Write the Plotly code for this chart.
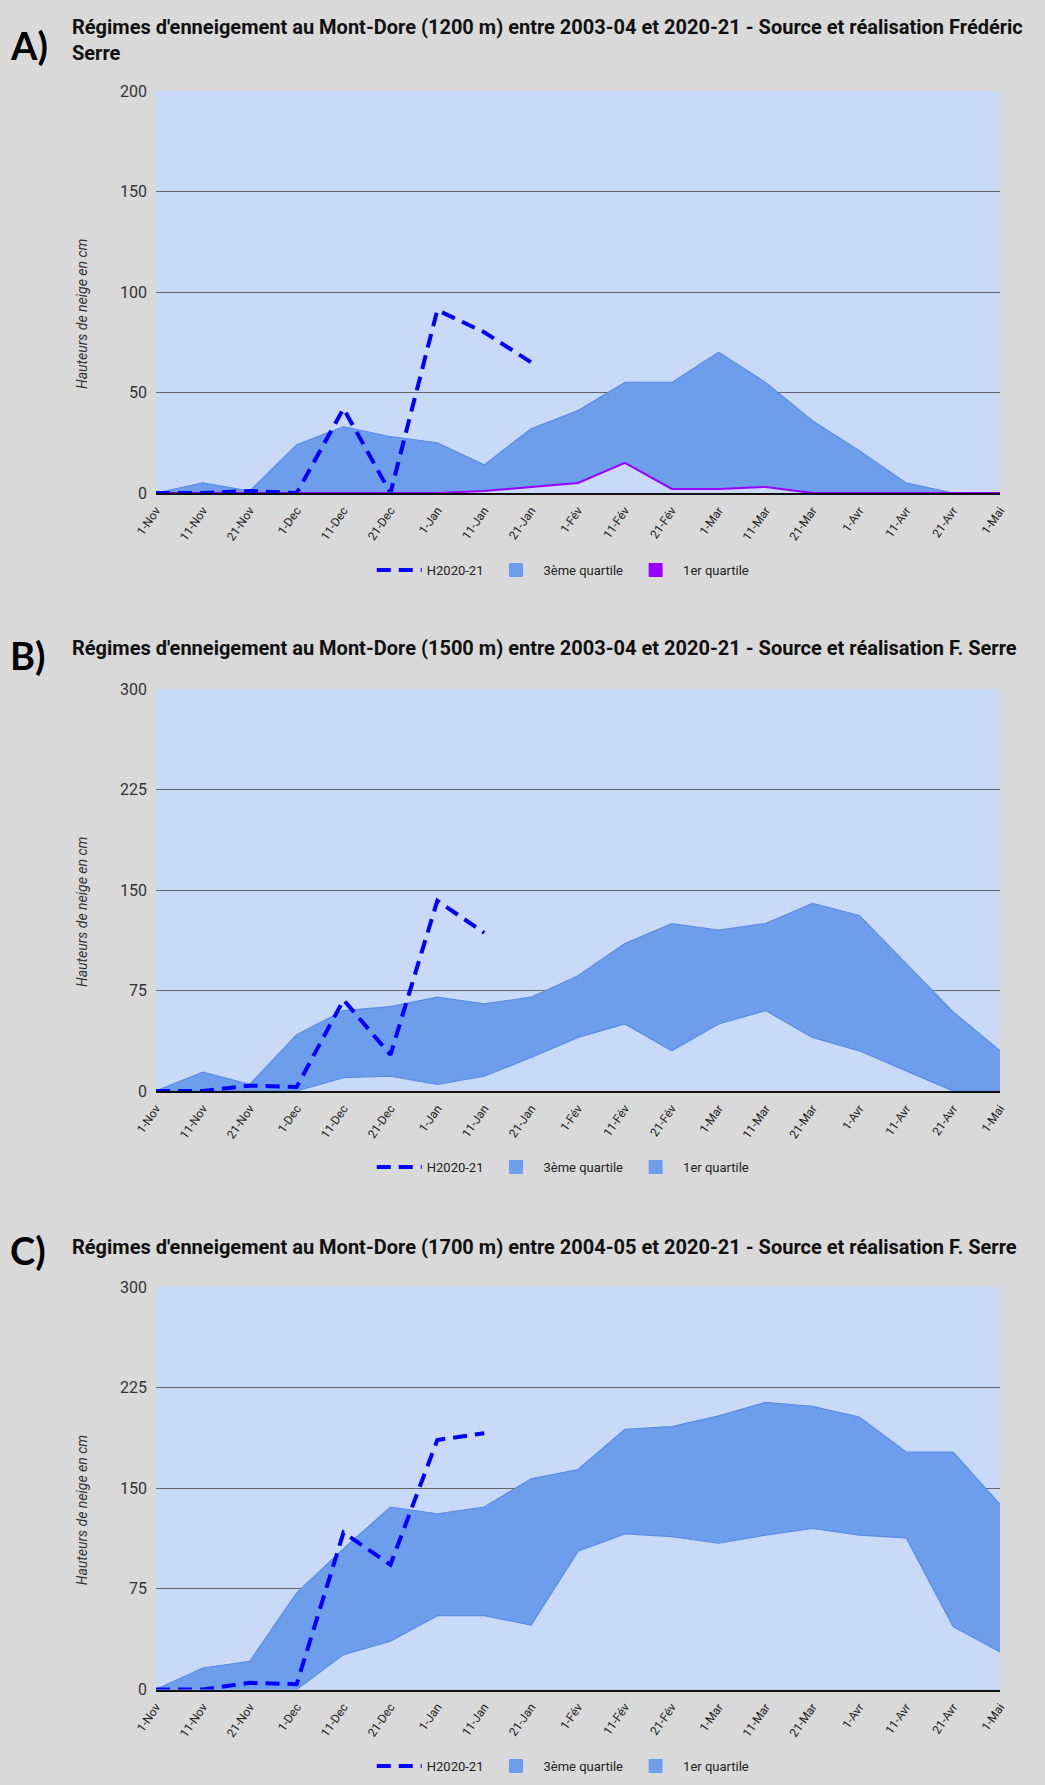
import plotly.graph_objects as go

# 10-day steps of the snow season
dates = ["1-Nov", "11-Nov", "21-Nov", "1-Dec", "11-Dec", "21-Dec", "1-Jan", "11-Jan",
         "21-Jan", "1-Fév", "11-Fév", "21-Fév", "1-Mar", "11-Mar", "21-Mar", "1-Avr",
         "11-Avr", "21-Avr", "1-Mai"]

# A) 1200 m
h_1200 = [0, 0, 1, 0, 42, 0, 91, 80, 65] + [None] * 10
q3_1200 = [0, 5, 1, 24, 33, 28, 25, 14, 32, 41, 55, 55, 70, 55, 36, 21, 5, 0, 0]
q1_1200 = [0, 0, 0, 0, 0, 0, 0, 1, 3, 5, 15, 2, 2, 3, 0, 0, 0, 0, 0]

# B) 1500 m
h_1500 = [0, 0, 4, 3, 68, 27, 142, 118] + [None] * 11
q3_1500 = [0, 14, 5, 42, 60, 63, 70, 65, 70, 86, 110, 125, 120, 125, 140, 131, 95, 59, 30]
q1_1500 = [0, 0, 0, 0, 10, 11, 5, 11, 25, 40, 50, 30, 50, 60, 40, 30, 15, 0, 0]

# C) 1700 m
h_1700 = [0, 0, 5, 4, 117, 93, 186, 191] + [None] * 11
q3_1700 = [0, 16, 21, 72, 105, 136, 131, 136, 157, 164, 194, 196, 204, 214, 211, 203, 177, 177, 138]
q1_1700 = [0, 0, 0, 0, 26, 36, 55, 55, 48, 103, 116, 114, 109, 115, 120, 115, 113, 47, 28]

titles = [
    "Régimes d'enneigement au Mont-Dore (1200 m) entre 2003-04 et 2020-21 - Source et réalisation Frédéric<br>Serre",
    "Régimes d'enneigement au Mont-Dore (1500 m) entre 2003-04 et 2020-21 - Source et réalisation F. Serre",
    "Régimes d'enneigement au Mont-Dore (1700 m) entre 2004-05 et 2020-21 - Source et réalisation F. Serre",
]
letters = ["A)", "B)", "C)"]
y_ticks = [[0, 50, 100, 150, 200], [0, 75, 150, 225, 300], [0, 75, 150, 225, 300]]

W, H = 1045, 1785
BG = "#d9d9d9"
PLOT_BG = "#c9daf8"
AREA = "#6d9eeb"
AREA_EDGE = "#5a8de6"
DASH_BLUE = "#0000ff"
PURPLE = "#9900ff"

# pixel layout of each panel: plot top, plot bottom, title centre, letter centre, legend centre
panels = [
    dict(top=91, bottom=493, title_y=40, letter_y=45, legend_y=570,
         h=h_1200, q3=q3_1200, q1=q1_1200, q1_line=PURPLE, q1_leg=PURPLE, q1_w=2),
    dict(top=689, bottom=1091, title_y=648, letter_y=655, legend_y=1167,
         h=h_1500, q3=q3_1500, q1=q1_1500, q1_line=AREA_EDGE, q1_leg=AREA, q1_w=1.2),
    dict(top=1287, bottom=1689.5, title_y=1247, letter_y=1250, legend_y=1766,
         h=h_1700, q3=q3_1700, q1=q1_1700, q1_line=AREA_EDGE, q1_leg=AREA, q1_w=1.2),
]

X0, X1 = 156, 1000


def py(v):
    return 1 - v / H


fig = go.Figure()
annotations = []
layout = {}

for k, p in enumerate(panels):
    n = k + 1
    sx = "" if n == 1 else str(n)
    xa, ya = "x" + sx, "y" + sx
    leg = "legend" + sx

    fig.add_trace(go.Scatter(x=dates, y=p["q3"], mode="lines", fill="tozeroy",
                             fillcolor=AREA, line=dict(color=AREA_EDGE, width=1.2),
                             xaxis=xa, yaxis=ya, showlegend=False, hoverinfo="skip"))
    fig.add_trace(go.Scatter(x=dates, y=p["q1"], mode="lines", fill="tozeroy",
                             fillcolor=PLOT_BG, line=dict(color=p["q1_line"], width=p["q1_w"]),
                             xaxis=xa, yaxis=ya, showlegend=False, hoverinfo="skip"))
    fig.add_trace(go.Scatter(x=dates, y=p["h"], mode="lines", name="H2020-21",
                             line=dict(color=DASH_BLUE, width=4, dash="14px,8px"),
                             connectgaps=False, xaxis=xa, yaxis=ya, legend=leg, legendrank=1))
    # legend swatches for the two quartile areas
    fig.add_trace(go.Scatter(x=[None], y=[None], mode="markers", name="3ème quartile",
                             marker=dict(symbol="square", size=14, color=AREA),
                             xaxis=xa, yaxis=ya, legend=leg, legendrank=2))
    fig.add_trace(go.Scatter(x=[None], y=[None], mode="markers", name="1er quartile",
                             marker=dict(symbol="square", size=14, color=p["q1_leg"]),
                             xaxis=xa, yaxis=ya, legend=leg, legendrank=3))

    dom_y = [py(p["bottom"]), py(p["top"])]
    layout["xaxis" + sx] = dict(
        domain=[X0 / W, X1 / W], anchor=ya, type="category", categoryorder="array",
        categoryarray=dates, range=[0, len(dates) - 1], showgrid=False, zeroline=False,
        tickangle=-55, tickfont=dict(size=12, color="#222222", family="Roboto"),
        showline=True, linecolor="#111111", linewidth=1.5, ticks="", ticklabelstandoff=4,
        automargin=False,
    )
    layout["yaxis" + sx] = dict(
        domain=dom_y, anchor=xa, range=[0, y_ticks[k][-1]], tickvals=y_ticks[k],
        showgrid=True, gridcolor="#666666", gridwidth=1, zeroline=False,
        tickfont=dict(size=16, color="#333333", family="Roboto"), ticks="",
        ticklabelstandoff=8, fixedrange=True, automargin=False,
    )
    layout[leg] = dict(
        orientation="h", x=0.539, xanchor="center", y=py(p["legend_y"]), yanchor="middle",
        bgcolor="rgba(0,0,0,0)", font=dict(size=13, color="#222222", family="Roboto"),
        itemwidth=45, tracegroupgap=0,
    )

    annotations.append(dict(text="<b>%s</b>" % titles[k], x=70 / W, y=py(p["title_y"]),
                            xref="paper", yref="paper", xanchor="left", yanchor="middle",
                            align="left", showarrow=False,
                            font=dict(size=20, color="#111111", family="Roboto")))
    annotations.append(dict(text="<b>%s</b>" % letters[k], x=8 / W, y=py(p["letter_y"]),
                            xref="paper", yref="paper", xanchor="left", yanchor="middle",
                            showarrow=False,
                            font=dict(size=38, color="#000000", family="Lato")))
    annotations.append(dict(text="<i>Hauteurs de neige en cm</i>", x=82 / W,
                            y=py((p["top"] + p["bottom"]) / 2 + 22), xref="paper",
                            yref="paper", xanchor="center", yanchor="middle", textangle=-90,
                            showarrow=False,
                            font=dict(size=14, color="#333333", family="Roboto")))

fig.update_layout(
    width=W, height=H, autosize=False,
    margin=dict(l=0, r=0, t=0, b=0, autoexpand=False),
    paper_bgcolor=BG, plot_bgcolor=PLOT_BG,
    font=dict(family="Roboto", color="#222222"),
    annotations=annotations,
    **layout,
)

fig.write_html("out.html")
